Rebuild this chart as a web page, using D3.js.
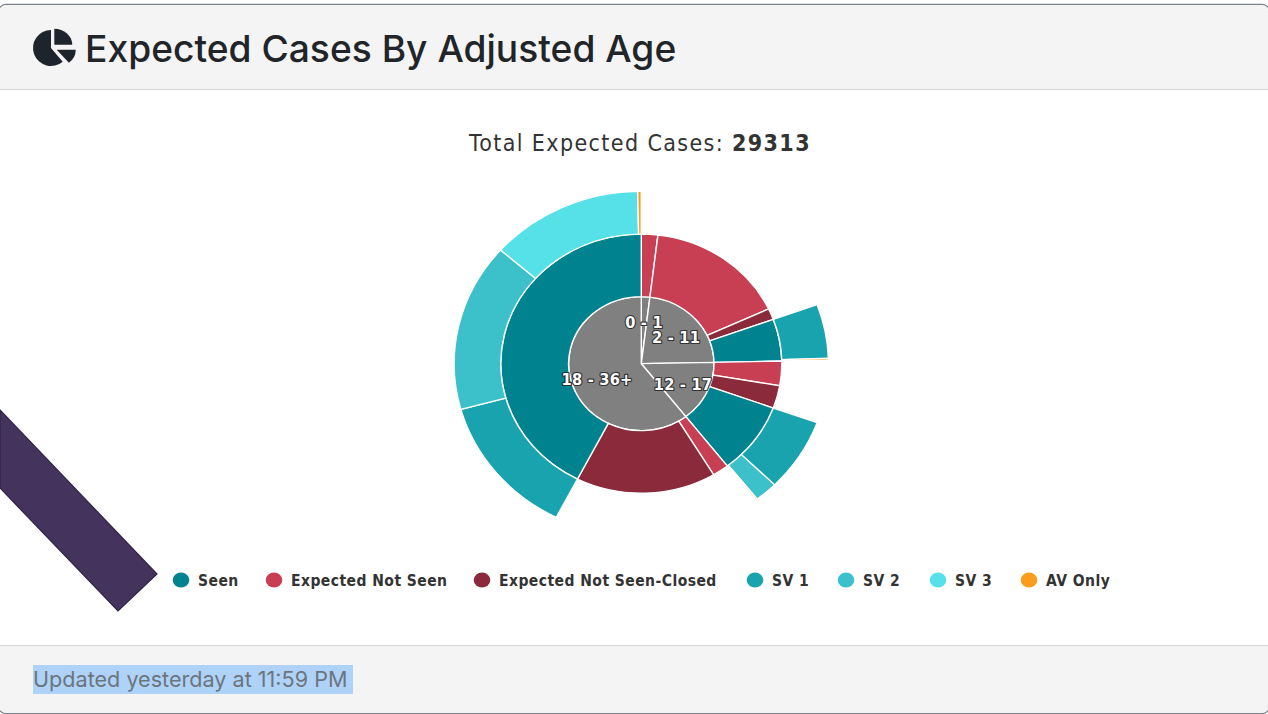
<!DOCTYPE html>
<html lang="en">
<head>
<meta charset="utf-8">
<title>Expected Cases By Adjusted Age</title>
<script src="https://cdn.jsdelivr.net/npm/d3@7"></script>
<style>
	html, body { margin: 0; padding: 0; background: #fff; overflow: hidden; }
	svg { display: block; }
	.heading { font-family: Inter, "Liberation Sans", sans-serif; font-weight: 500; fill: #212529; }
	.footer { font-family: Inter, "Liberation Sans", sans-serif; fill: #6c757d; }
	.chart-title, .legend text, .age-label { font-family: "DejaVu Sans Condensed", "DejaVu Sans", sans-serif; }
	.legend text { font-weight: bold; fill: #333; letter-spacing: 0.45px; }
	.age-label { font-weight: bold; fill: #fff; stroke: #333; stroke-width: 2.2px; paint-order: stroke; stroke-linejoin: round; letter-spacing: 0.2px; }
</style>
</head>
<body>
<script>
var w = 1268;
var h = 714;

// values, total is 29313
var ageGroups = ["0 - 1", "2 - 11", "12 - 17", "18 - 36+"];
var statusNames = ["Seen", "Expected Not Seen", "Expected Not Seen-Closed"];
var visitNames = ["SV 1", "SV 2", "SV 3", "AV Only"];

var notSeen = [554, 4739, 896, 554];
var notSeenClosed = [0, 407, 831, 4723];
var sv1 = [0, 1482, 2003, 3875];
var sv2 = [0, 0, 579, 4608];
var sv3 = [0, 0, 0, 3883];
var avOnly = [0, 49, 40, 90];

var legendNames = statusNames.concat(visitNames);
var legendColors = ["#00838f", "#c83f53", "#8b2a3a", "#18a3ae", "#3cc0ca", "#56e0e8", "#fa9d1e"];
var legendX = [181, 274, 482, 755, 846, 938, 1029];

var color = d3.scaleOrdinal().domain(legendNames).range(legendColors);

var treeData = {
	name: "root",
	children: ageGroups.map(function(age, i) {
		return {
			name: age,
			children: [
				{ name: "Expected Not Seen", value: notSeen[i] },
				{ name: "Expected Not Seen-Closed", value: notSeenClosed[i] },
				{
					name: "Seen",
					children: [
						{ name: "SV 1", value: sv1[i] },
						{ name: "SV 2", value: sv2[i] },
						{ name: "SV 3", value: sv3[i] },
						{ name: "AV Only", value: avOnly[i] }
					]
				}
			]
		};
	})
};

var svg = d3.select("body").append("svg").attr("width", w).attr("height", h);

// card
svg.append("rect").attr("x", -1).attr("y", 4.5).attr("width", w + 2).attr("height", 709)
	.attr("rx", 7).attr("fill", "#fff").attr("stroke", "#7d8288").attr("stroke-width", 1.5);

var clip = svg.append("clipPath").attr("id", "card");
clip.append("rect").attr("x", -1).attr("y", 5).attr("width", w + 2).attr("height", 708).attr("rx", 7);

var bands = svg.append("g").attr("clip-path", "url(#card)");
bands.append("rect").attr("x", 0).attr("y", 5).attr("width", w).attr("height", 84).attr("fill", "#f4f4f4");
bands.append("rect").attr("x", 0).attr("y", 645).attr("width", w).attr("height", 68).attr("fill", "#f4f4f4");
bands.append("rect").attr("x", 0).attr("y", 89).attr("width", w).attr("height", 1).attr("fill", "#d6d6d6");
bands.append("rect").attr("x", 0).attr("y", 645).attr("width", w).attr("height", 1).attr("fill", "#d6d6d6");

// header icon
var iconArc = d3.arc();
var icon = svg.append("g").attr("fill", "#1d242c");
icon.append("path").attr("transform", "translate(51,48)")
	.attr("d", iconArc({ innerRadius: 0, outerRadius: 18, startAngle: -3.85, endAngle: 0 }));
icon.append("path").attr("transform", "translate(54.3,44.7) scale(1.12,1)")
	.attr("d", iconArc({ innerRadius: 0, outerRadius: 16, startAngle: 0, endAngle: Math.PI / 2 }));
icon.append("path").attr("transform", "translate(56.7,49.7) scale(1.12,1)")
	.attr("d", iconArc({ innerRadius: 0, outerRadius: 17, startAngle: Math.PI / 2, endAngle: Math.PI * 0.778 }));

svg.append("text").attr("class", "heading").attr("x", 85).attr("y", 62)
	.attr("font-size", "37.2px").text("Expected Cases By Adjusted Age");

svg.append("rect").attr("x", 33).attr("y", 665).attr("width", 320).attr("height", 29).attr("fill", "#aed2f8");
svg.append("text").attr("class", "footer").attr("x", 33).attr("y", 687).attr("font-size", "21.6px")
	.text("Updated yesterday at 11:59 PM");

// dark band in the lower left corner
svg.append("path").attr("d", "M0,410L157,574L118,611L0,488Z").attr("fill", "#44335d").attr("stroke", "#2f2347").attr("stroke-width", 1.2);

svg.append("text").attr("class", "chart-title").attr("x", 640).attr("y", 151)
	.attr("text-anchor", "middle").attr("font-size", "23px").attr("letter-spacing", "1.38px").attr("fill", "#333")
	.text("Total Expected Cases: ")
	.append("tspan").attr("font-weight", "bold").text("29313");

// sunburst, picture is stretched sideways
var root = d3.hierarchy(treeData).sum(function(d) { return d.value || 0; });
d3.partition().size([2 * Math.PI, 3])(root);

var radius = d3.scaleLinear().domain([0, 1, 2, 3]).range([0, 67, 129.5, 172.5]);

var arc = d3.arc()
	.startAngle(function(d) { return d.x0; })
	.endAngle(function(d) { return d.x1; })
	.innerRadius(function(d) { return radius(d.depth - 1); })
	.outerRadius(function(d) { return radius(d.depth); });

var chart = svg.append("g").attr("transform", "translate(641.3,363.7) scale(1.085,1)");

chart.selectAll("path")
	.data(root.descendants().filter(function(d) { return d.depth > 0 && d.value > 0; }))
	.enter()
	.append("path")
	.attr("d", arc)
	.attr("fill", function(d) { return d.depth == 1 ? "#808080" : color(d.data.name); })
	.attr("stroke", "#fff")
	.attr("stroke-width", 1.3);

// labels sit at the middle of the inner ring, nudged to where they are in the picture
var labelOffset = { "0 - 1": [0.5, -2.3], "2 - 11": [7.2, 1.8], "12 - 17": [8.2, 11.9], "18 - 36+": [-9.1, 10.4] };
chart.selectAll("text.age-label")
	.data(root.children)
	.enter()
	.append("text")
	.attr("class", "age-label")
	.attr("text-anchor", "middle")
	.attr("font-size", "15px")
	.attr("transform", function(d) {
		var c = arc.centroid(d);
		var o = labelOffset[d.data.name];
		return "translate(" + (c[0] + o[0]) + "," + (c[1] + o[1]) + ")";
	})
	.text(function(d) { return d.data.name; });

// legend
var legend = svg.append("g").attr("class", "legend");
var items = legend.selectAll("g").data(legendNames).enter().append("g")
	.attr("transform", function(d, i) { return "translate(" + legendX[i] + ",580)"; });
items.append("ellipse").attr("rx", 8.3).attr("ry", 7.5).attr("fill", function(d) { return color(d); });
items.append("text").attr("x", 17).attr("y", 6).attr("font-size", "15.5px").text(function(d) { return d; });
</script>
</body>
</html>
